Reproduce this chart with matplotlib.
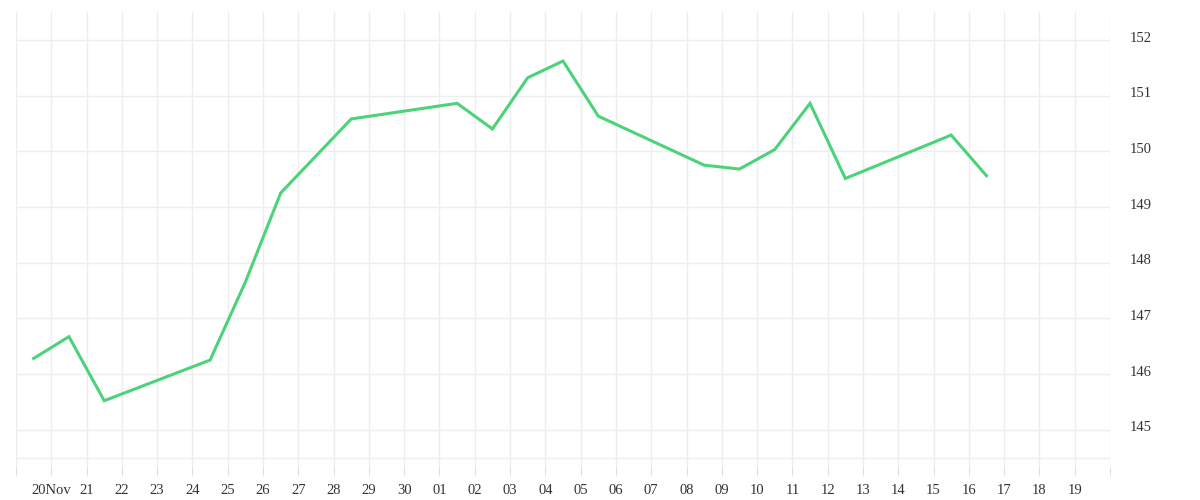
import matplotlib
matplotlib.use("Agg")
import matplotlib.pyplot as plt
import numpy as np

# day offsets from 20 Nov (points at midday)
days = [-0.5, 0.5, 1.5, 4.5, 5.5, 6.5, 8.5, 11.5, 12.5, 13.5, 14.5, 15.5, 18.5, 19.5, 20.5, 21.5, 22.5, 25.5, 26.5]
prices = [146.28, 146.67, 145.52, 146.25, 147.65, 149.25, 150.58, 150.86, 150.40, 151.32, 151.62,
          150.63, 149.75, 149.68, 150.03, 150.86, 149.51, 150.29, 149.56]
tick_labels = ["", "20Nov", "21", "22", "23", "24", "25", "26", "27", "28", "29", "30",
               "01", "02", "03", "04", "05", "06", "07", "08", "09", "10", "11", "12",
               "13", "14", "15", "16", "17", "18", "19", ""]
yticks = [145, 146, 147, 148, 149, 150, 151, 152]

plt.rcParams['font.family'] = ['Liberation Serif', 'DejaVu Serif']
fig = plt.figure(figsize=(12, 5), dpi=100)
ax = fig.add_axes([16/1200, 1-467/500, (1110-16)/1200, (467-12)/500])

ax.plot(days, prices, color="#4cd37a", lw=2.2, solid_joinstyle="miter")
ax.set_xlim(-1, 30)
ax.set_ylim(144.33, 152.5)
ax.set_xticks(range(-1, len(tick_labels) - 1))
ax.set_xticklabels(tick_labels, fontsize=10.5, color="#333333")
ax.set_yticks(yticks)
ax.set_yticklabels([str(v) for v in yticks], fontsize=10.5, color="#333333", va="top")
ax.set_yticks([144.5], minor=True)
ax.yaxis.tick_right()
ax.grid(True, which="both", color="#eeeeee", lw=1)
ax.tick_params(axis="y", which="both", length=0, pad=14)
for lab in ax.get_yticklabels():
    lab.set_y(lab.get_position()[1])
ax.tick_params(axis="x", length=6, color="#dddddd", pad=6)
for s in ["top", "right", "left", "bottom"]:
    ax.spines[s].set_visible(False)
ax.set_axisbelow(True)
# shift y labels down slightly so they sit centered a few px below gridline
import matplotlib.transforms as mtrans
off = mtrans.ScaledTranslation(0, 6/72, fig.dpi_scale_trans)
for lab in ax.get_yticklabels():
    lab.set_transform(lab.get_transform() + off)
fig.savefig("out.png", dpi=100)
